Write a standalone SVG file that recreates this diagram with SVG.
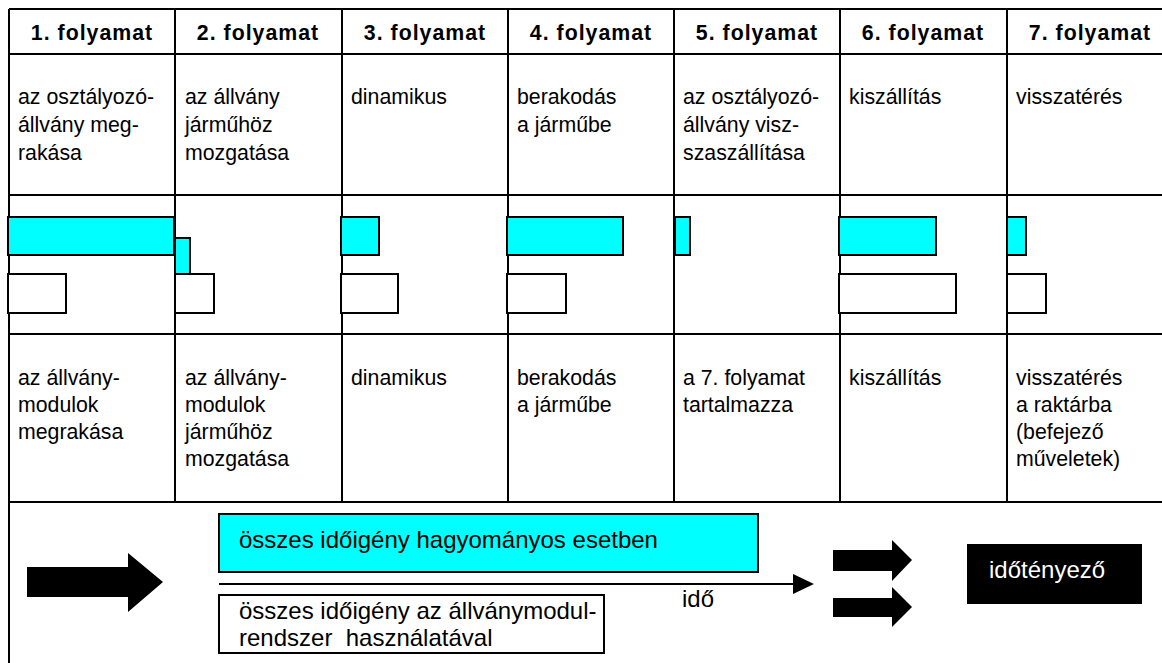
<svg xmlns="http://www.w3.org/2000/svg" width="1162" height="663" viewBox="0 0 1162 663">
<style>
.grid{stroke:#000;stroke-width:2;fill:none}
.h{font-family:"Liberation Sans",Arial,sans-serif;font-weight:bold;font-size:21.3px;letter-spacing:1px;text-anchor:middle;fill:#000}
.t{font-family:"Liberation Sans",Arial,sans-serif;font-size:21.3px;fill:#000}
.b{font-family:"Liberation Sans",Arial,sans-serif;font-size:24px;fill:#000}
.cy{fill:#00FFFF;stroke:#000;stroke-width:2}
.wh{fill:#fff;stroke:#000;stroke-width:2}
.arr{fill:#000}
</style>
<rect width="1162" height="663" fill="#fff"/>
<g id="table" class="grid">
<line x1="9" y1="9" x2="1170" y2="9"/>
<line x1="9" y1="54" x2="1170" y2="54"/>
<line x1="9" y1="195" x2="1170" y2="195"/>
<line x1="9" y1="334" x2="1170" y2="334"/>
<line x1="9" y1="502" x2="1170" y2="502"/>
<line x1="9" y1="9" x2="9" y2="663"/>
<line x1="175" y1="9" x2="175" y2="502"/>
<line x1="342" y1="9" x2="342" y2="502"/>
<line x1="508" y1="9" x2="508" y2="502"/>
<line x1="674" y1="9" x2="674" y2="502"/>
<line x1="840" y1="9" x2="840" y2="502"/>
<line x1="1007" y1="9" x2="1007" y2="502"/>
</g>
<g id="headers">
<text class="h" x="92" y="40">1. folyamat</text>
<text class="h" x="258" y="40">2. folyamat</text>
<text class="h" x="425" y="40">3. folyamat</text>
<text class="h" x="591" y="40">4. folyamat</text>
<text class="h" x="757" y="40">5. folyamat</text>
<text class="h" x="923" y="40">6. folyamat</text>
<text class="h" x="1090" y="40">7. folyamat</text>
</g>
<g id="row-top">
<text class="t" x="18" y="104">az osztályozó-<tspan x="18" dy="28">állvány meg-</tspan><tspan x="18" dy="28">rakása</tspan></text>
<text class="t" x="185" y="104">az állvány<tspan x="185" dy="28">járműhöz</tspan><tspan x="185" dy="28">mozgatása</tspan></text>
<text class="t" x="351" y="104">dinamikus</text>
<text class="t" x="517" y="104">berakodás<tspan x="517" dy="28">a járműbe</tspan></text>
<text class="t" x="683" y="104">az osztályozó-<tspan x="683" dy="28">állvány visz-</tspan><tspan x="683" dy="28">szaszállítása</tspan></text>
<text class="t" x="849" y="104">kiszállítás</text>
<text class="t" x="1016" y="104">visszatérés</text>
</g>
<g id="bars">
<rect class="cy" x="8" y="217" width="166" height="38"/>
<rect class="cy" x="175" y="238" width="15" height="36"/>
<rect class="cy" x="341" y="217" width="38" height="38"/>
<rect class="cy" x="507" y="217" width="116" height="38"/>
<rect class="cy" x="675" y="217" width="15" height="38"/>
<rect class="cy" x="839" y="217" width="97" height="38"/>
<rect class="cy" x="1007" y="217" width="19" height="38"/>
<rect class="wh" x="8" y="274" width="58" height="39"/>
<rect class="wh" x="175" y="274" width="39" height="39"/>
<rect class="wh" x="341" y="274" width="57" height="39"/>
<rect class="wh" x="507" y="274" width="59" height="39"/>
<rect class="wh" x="839" y="274" width="117" height="39"/>
<rect class="wh" x="1007" y="274" width="39" height="39"/>
</g>
<g id="row-bottom">
<text class="t" x="18" y="385">az állvány-<tspan x="18" dy="27">modulok</tspan><tspan x="18" dy="27">megrakása</tspan></text>
<text class="t" x="185" y="385">az állvány-<tspan x="185" dy="27">modulok</tspan><tspan x="185" dy="27">járműhöz</tspan><tspan x="185" dy="27">mozgatása</tspan></text>
<text class="t" x="351" y="385">dinamikus</text>
<text class="t" x="517" y="385">berakodás<tspan x="517" dy="27">a járműbe</tspan></text>
<text class="t" x="683" y="385">a 7. folyamat<tspan x="683" dy="27">tartalmazza</tspan></text>
<text class="t" x="849" y="385">kiszállítás</text>
<text class="t" x="1016" y="385">visszatérés<tspan x="1016" dy="27">a raktárba</tspan><tspan x="1016" dy="27">(befejező</tspan><tspan x="1016" dy="27">műveletek)</tspan></text>
</g>
<g id="legend-traditional">
<rect class="cy" x="219" y="514" width="539" height="58"/>
<text class="b" x="239" y="548">összes időigény hagyományos esetben</text>
</g>
<g id="legend-module">
<rect class="wh" x="219" y="595" width="385" height="58"/>
<text class="b" x="239" y="619">összes időigény az állványmodul-<tspan x="239" dy="27" xml:space="preserve">rendszer  használatával</tspan></text>
</g>
<g id="connectors">
<polygon class="arr" points="27,567 128,567 128,553 163,582 128,612 128,597 27,597"/>
<line x1="219" y1="584" x2="795" y2="584" stroke="#000" stroke-width="2"/>
<polygon class="arr" points="793,574 814,584 793,594"/>
<polygon class="arr" points="833,550 892,550 892,540 912,560 892,581 892,571 833,571"/>
<polygon class="arr" points="833,598 892,598 892,587 912,607 892,627 892,617 833,617"/>
</g>
<g id="time-label">
<text class="b" x="682" y="607">idő</text>
</g>
<g id="timefactor">
<rect x="967" y="544" width="175" height="60" fill="#000"/>
<text class="b" x="989" y="578" fill="#fff" style="fill:#fff">időtényező</text>
</g>
</svg>
